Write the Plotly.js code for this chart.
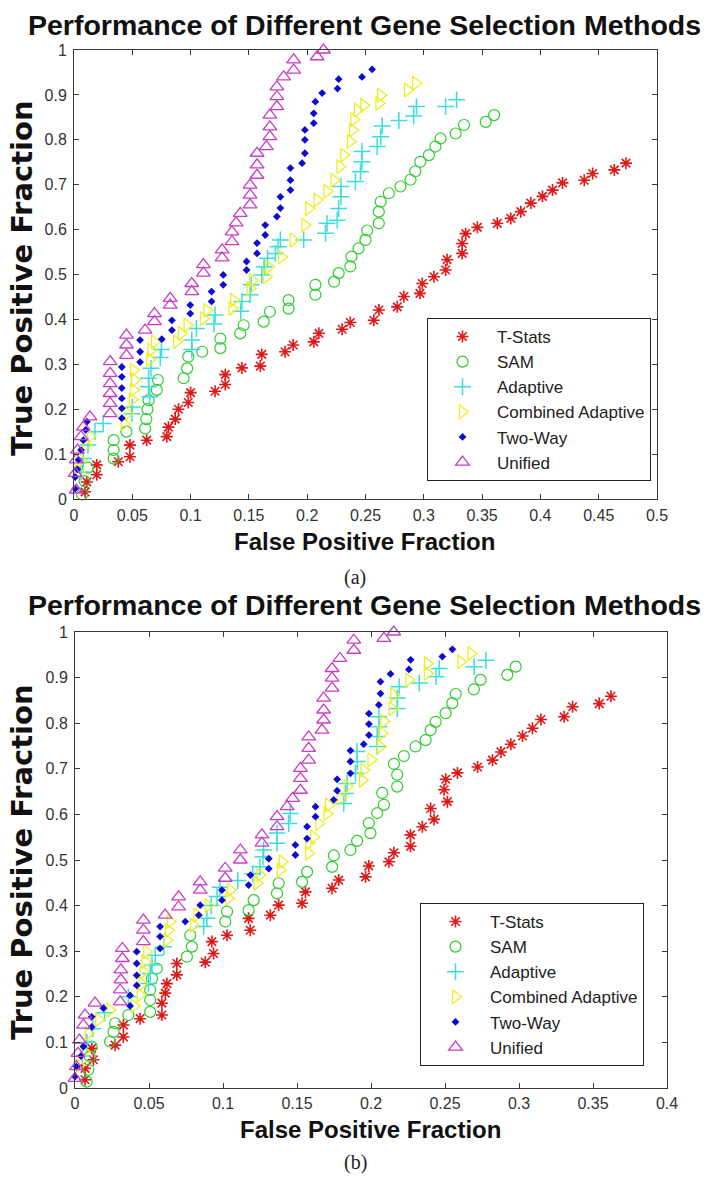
<!DOCTYPE html>
<html>
<head>
<meta charset="utf-8">
<script src="https://cdn.plot.ly/plotly-3.0.1.min.js"></script>
<style>
html,body{margin:0;padding:0;background:#fff;}
#chart{width:713px;height:1178px;}
</style>
</head>
<body>
<div id="chart"></div>
<script>
// ---------- Data, panel (a) ----------
var seriesNames = ["T-Stats", "SAM", "Adaptive", "Combined Adaptive", "Two-Way", "Unified"];
var xTicksA = [0,0.05,0.1,0.15,0.2,0.25,0.3,0.35,0.4,0.45,0.5];
var xTicksB = [0,0.05,0.1,0.15,0.2,0.25,0.3,0.35,0.4];
var yTicks = [0,0.1,0.2,0.3,0.4,0.5,0.6,0.7,0.8,0.9,1];

var tstatsA_x = [0.0095,0.011,0.0195,0.0195,0.038,0.048,0.048,0.0624,0.0796,0.081,0.0868,0.0896,0.098,0.1,0.121,0.1297,0.1297,0.144,0.1598,0.161,0.181,0.188,0.2056,0.21,0.23,0.237,0.2571,0.2615,0.2772,0.2829,0.2967,0.2987,0.3087,0.3187,0.32,0.3329,0.3329,0.3359,0.3459,0.363,0.3746,0.3832,0.3918,0.4018,0.4104,0.419,0.4376,0.4448,0.4634,0.4734];
var tstatsA_y = [0.016,0.038,0.054,0.076,0.083,0.094,0.12,0.131,0.139,0.16,0.178,0.2,0.215,0.237,0.24,0.255,0.277,0.292,0.296,0.322,0.328,0.343,0.35,0.369,0.378,0.393,0.398,0.421,0.428,0.451,0.458,0.48,0.495,0.51,0.533,0.547,0.569,0.591,0.605,0.614,0.625,0.64,0.659,0.674,0.688,0.704,0.71,0.725,0.733,0.748];

var samA_x = [0.007,0.009,0.012,0.034,0.034,0.034,0.045,0.061,0.062,0.063,0.064,0.071,0.072,0.094,0.097,0.098,0.11,0.1255,0.1255,0.1426,0.1455,0.1627,0.168,0.184,0.184,0.207,0.207,0.223,0.227,0.237,0.238,0.244,0.25,0.2514,0.2614,0.2614,0.263,0.27,0.28,0.2886,0.2927,0.297,0.3044,0.31,0.3144,0.3273,0.3345,0.3531,0.3603];
var samA_y = [0.01,0.04,0.07,0.09,0.109,0.131,0.15,0.157,0.178,0.2,0.22,0.243,0.265,0.269,0.291,0.317,0.328,0.336,0.357,0.369,0.387,0.395,0.417,0.424,0.443,0.455,0.477,0.484,0.503,0.518,0.54,0.558,0.577,0.598,0.614,0.64,0.662,0.681,0.696,0.711,0.73,0.751,0.766,0.785,0.803,0.814,0.833,0.84,0.855];

var adaptA_x = [0.006,0.008,0.012,0.018,0.025,0.0496,0.05,0.065,0.064,0.064,0.066,0.074,0.075,0.101,0.101,0.105,0.12,0.121,0.143,0.144,0.151,0.152,0.161,0.163,0.166,0.1727,0.175,0.177,0.197,0.2157,0.217,0.2257,0.227,0.229,0.229,0.2414,0.2457,0.247,0.247,0.26,0.263,0.2643,0.2786,0.2913,0.2937,0.3187,0.3281];
var adaptA_y = [0.06,0.09,0.12,0.15,0.168,0.19,0.205,0.228,0.25,0.269,0.291,0.315,0.333,0.333,0.354,0.38,0.39,0.41,0.418,0.44,0.455,0.477,0.499,0.517,0.536,0.547,0.562,0.577,0.577,0.592,0.614,0.621,0.647,0.673,0.696,0.707,0.729,0.751,0.774,0.785,0.807,0.831,0.843,0.853,0.874,0.874,0.889];

var combA_x = [0.004,0.006,0.01,0.014,0.043,0.046,0.05,0.051,0.052,0.051,0.065,0.066,0.069,0.088,0.092,0.097,0.111,0.114,0.1355,0.137,0.151,0.153,0.165,0.167,0.178,0.188,0.198,0.2013,0.2085,0.217,0.223,0.228,0.2314,0.237,0.239,0.24,0.243,0.2485,0.2615,0.263,0.286,0.293];
var combA_y = [0.06,0.087,0.12,0.14,0.168,0.19,0.221,0.243,0.265,0.287,0.31,0.332,0.35,0.35,0.369,0.387,0.402,0.42,0.424,0.443,0.469,0.487,0.495,0.517,0.539,0.577,0.61,0.647,0.666,0.685,0.71,0.74,0.766,0.796,0.822,0.845,0.866,0.877,0.881,0.899,0.911,0.926];

var twowayA_x = [0.001,0.001,0.003,0.004,0.006,0.008,0.01,0.011,0.041,0.041,0.041,0.041,0.041,0.041,0.0567,0.0567,0.0567,0.0753,0.084,0.084,0.0997,0.0997,0.118,0.118,0.128,0.128,0.148,0.148,0.157,0.157,0.164,0.164,0.174,0.177,0.177,0.1856,0.1856,0.1856,0.1956,0.198,0.198,0.198,0.2056,0.2056,0.207,0.2128,0.226,0.227,0.247,0.2557];
var twowayA_y = [0.023,0.049,0.066,0.087,0.109,0.131,0.154,0.172,0.18,0.202,0.224,0.247,0.272,0.294,0.305,0.328,0.354,0.356,0.376,0.398,0.413,0.432,0.44,0.462,0.477,0.499,0.51,0.529,0.547,0.57,0.588,0.61,0.629,0.648,0.673,0.688,0.71,0.737,0.748,0.77,0.8,0.822,0.837,0.859,0.885,0.904,0.914,0.935,0.94,0.957];

var unifA_x = [0.002,0.001,0.002,0.003,0.006,0.008,0.0137,0.031,0.031,0.031,0.031,0.031,0.031,0.045,0.045,0.045,0.061,0.069,0.069,0.0825,0.0825,0.101,0.101,0.111,0.111,0.127,0.127,0.1355,0.1355,0.139,0.1426,0.151,0.151,0.151,0.157,0.157,0.157,0.165,0.168,0.168,0.168,0.174,0.174,0.174,0.1798,0.1884,0.1884,0.2085,0.214];
var unifA_y = [0.02,0.057,0.087,0.109,0.139,0.16,0.183,0.19,0.213,0.235,0.257,0.28,0.306,0.32,0.343,0.365,0.376,0.395,0.413,0.432,0.447,0.462,0.48,0.503,0.522,0.537,0.555,0.573,0.595,0.615,0.636,0.655,0.677,0.699,0.721,0.744,0.77,0.785,0.807,0.829,0.855,0.874,0.896,0.918,0.94,0.955,0.978,0.985,1.0];

// ---------- Data, panel (b) ----------
var tstatsB_x = [0.0068,0.0068,0.0124,0.0113,0.0271,0.0327,0.0327,0.044,0.0587,0.0587,0.061,0.0621,0.0688,0.0688,0.088,0.0936,0.0925,0.1027,0.1184,0.1173,0.132,0.1376,0.1534,0.1557,0.1737,0.1782,0.1963,0.1985,0.2121,0.2155,0.2267,0.2267,0.2347,0.2426,0.2403,0.2516,0.2494,0.2505,0.2584,0.272,0.2821,0.2878,0.2945,0.3024,0.3091,0.3148,0.3305,0.3362,0.3542,0.3621];
var tstatsB_y = [0.018,0.043,0.062,0.087,0.094,0.112,0.138,0.152,0.16,0.186,0.208,0.229,0.248,0.273,0.276,0.295,0.321,0.335,0.346,0.372,0.379,0.401,0.405,0.43,0.438,0.456,0.463,0.487,0.496,0.516,0.53,0.555,0.573,0.589,0.613,0.628,0.654,0.677,0.691,0.704,0.719,0.737,0.754,0.772,0.789,0.808,0.814,0.836,0.843,0.859];

var samB_x = [0.0079,0.009,0.01,0.0113,0.0237,0.026,0.0271,0.0361,0.0508,0.0508,0.0508,0.052,0.0553,0.0756,0.079,0.0779,0.1015,0.1027,0.1173,0.1207,0.1365,0.1376,0.1534,0.1568,0.1737,0.1749,0.1861,0.1906,0.1996,0.1985,0.2042,0.2087,0.2076,0.2177,0.2177,0.2155,0.2222,0.2301,0.2369,0.2403,0.2437,0.2504,0.2549,0.2572,0.2695,0.274,0.2921,0.2978];
var samB_y = [0.014,0.04,0.069,0.091,0.102,0.123,0.142,0.16,0.167,0.193,0.215,0.24,0.262,0.288,0.31,0.335,0.365,0.387,0.39,0.412,0.427,0.449,0.452,0.474,0.485,0.51,0.522,0.542,0.559,0.581,0.603,0.621,0.647,0.661,0.687,0.711,0.728,0.749,0.763,0.785,0.803,0.822,0.844,0.864,0.874,0.895,0.906,0.924];

var adaptB_x = [0.005,0.008,0.012,0.02,0.036,0.0497,0.0508,0.052,0.0542,0.06,0.0869,0.0891,0.092,0.096,0.098,0.11,0.12,0.125,0.127,0.1275,0.1365,0.1365,0.1444,0.1455,0.1816,0.1828,0.1839,0.1895,0.1907,0.1906,0.2042,0.2042,0.2053,0.2053,0.2178,0.2178,0.219,0.2326,0.244,0.2461,0.2697,0.2776];
var adaptB_y = [0.07,0.1,0.13,0.165,0.2,0.229,0.251,0.27,0.291,0.31,0.354,0.372,0.4,0.42,0.44,0.455,0.47,0.485,0.507,0.522,0.537,0.559,0.58,0.602,0.624,0.646,0.668,0.69,0.716,0.738,0.749,0.771,0.792,0.814,0.832,0.855,0.88,0.888,0.902,0.92,0.924,0.938];

var combB_x = [0.003,0.006,0.0091,0.016,0.0237,0.04,0.044,0.0451,0.0462,0.0474,0.0485,0.0621,0.0632,0.0643,0.08,0.0824,0.09,0.1038,0.1049,0.123,0.125,0.1387,0.14,0.1579,0.1579,0.1613,0.1647,0.1703,0.1714,0.1794,0.184,0.1941,0.1952,0.2,0.2064,0.2075,0.2087,0.2143,0.2154,0.2256,0.2381,0.2381,0.2607,0.2675];
var combB_y = [0.05,0.08,0.12,0.15,0.171,0.18,0.204,0.229,0.255,0.277,0.299,0.324,0.346,0.365,0.357,0.379,0.4,0.416,0.434,0.449,0.467,0.478,0.496,0.515,0.537,0.551,0.58,0.602,0.62,0.635,0.661,0.675,0.697,0.72,0.749,0.778,0.804,0.832,0.862,0.895,0.909,0.931,0.935,0.953];

var twowayB_x = [0.0,0.001,0.004,0.0057,0.0113,0.0113,0.0192,0.0372,0.0372,0.0417,0.0417,0.0417,0.0417,0.0575,0.0575,0.0575,0.0745,0.0836,0.0846,0.0993,0.0993,0.1173,0.1185,0.1309,0.1309,0.1489,0.1489,0.1568,0.1568,0.1625,0.1625,0.1748,0.1771,0.1771,0.1861,0.1861,0.1861,0.1951,0.1986,0.1986,0.1986,0.2053,0.2064,0.2064,0.2132,0.2256,0.2268,0.2482,0.255];
var twowayB_y = [0.025,0.047,0.07,0.091,0.134,0.156,0.175,0.18,0.203,0.225,0.247,0.273,0.299,0.306,0.332,0.354,0.365,0.379,0.401,0.412,0.434,0.445,0.467,0.481,0.503,0.511,0.533,0.547,0.573,0.595,0.617,0.632,0.652,0.677,0.69,0.716,0.74,0.754,0.774,0.798,0.821,0.84,0.865,0.891,0.908,0.918,0.939,0.946,0.962];

var unifB_x = [0.0,0.001,0.002,0.003,0.0057,0.0068,0.0135,0.0305,0.0305,0.031,0.031,0.032,0.032,0.0462,0.0462,0.0462,0.0609,0.07,0.07,0.0846,0.0846,0.1015,0.1015,0.1117,0.1117,0.1263,0.1263,0.1365,0.1365,0.1433,0.147,0.1523,0.1523,0.1523,0.1579,0.1579,0.1579,0.1669,0.168,0.168,0.168,0.1737,0.1737,0.1737,0.179,0.1884,0.1884,0.2087,0.2154];
var unifB_y = [0.021,0.047,0.076,0.105,0.138,0.16,0.186,0.189,0.215,0.237,0.259,0.284,0.306,0.321,0.346,0.368,0.379,0.397,0.419,0.434,0.452,0.46,0.482,0.5,0.522,0.537,0.555,0.573,0.595,0.617,0.635,0.653,0.679,0.701,0.719,0.745,0.77,0.785,0.807,0.829,0.855,0.877,0.899,0.92,0.942,0.96,0.982,0.986,1.0];

// ---------- Styles ----------
var markerStyles = [
  {symbol:'asterisk-open', size:10, color:'#e01818', line:{width:1.6, color:'#e01818'}},
  {symbol:'circle-open', size:11, color:'#2fcc2f', line:{width:1.2, color:'#2fcc2f'}},
  {symbol:'cross-thin-open', size:12, color:'#3adede', line:{width:1.5, color:'#3adede'}},
  {symbol:'triangle-right-open', size:12, color:'#eeee22', line:{width:1.3, color:'#eeee22'}},
  {symbol:'diamond', size:6, color:'#0c0cd0', line:{width:0}},
  {symbol:'triangle-up-open', size:12, color:'#c83cc8', line:{width:1.3, color:'#c83cc8'}}
];

var panelA = [[tstatsA_x,tstatsA_y],[samA_x,samA_y],[adaptA_x,adaptA_y],[combA_x,combA_y],[twowayA_x,twowayA_y],[unifA_x,unifA_y]];
var panelB = [[tstatsB_x,tstatsB_y],[samB_x,samB_y],[adaptB_x,adaptB_y],[combB_x,combB_y],[twowayB_x,twowayB_y],[unifB_x,unifB_y]];

var traces = [];
panelA.forEach(function(d,i){
  traces.push({type:'scatter', mode:'markers', name:seriesNames[i], x:d[0], y:d[1],
    xaxis:'x', yaxis:'y', legend:'legend', marker:markerStyles[i], cliponaxis:false});
});
panelB.forEach(function(d,i){
  traces.push({type:'scatter', mode:'markers', name:seriesNames[i], x:d[0], y:d[1],
    xaxis:'x2', yaxis:'y2', legend:'legend2', marker:markerStyles[i], cliponaxis:false});
});

var W = 713, H = 1178;
function px(x){return x/W;}
function py(y){return 1 - y/H;}

var axisCommon = {
  showline:true, linecolor:'#3a3a3a', linewidth:1, mirror:'allticks',
  ticks:'inside', ticklen:5, tickcolor:'#3a3a3a', tickwidth:1,
  showgrid:false, zeroline:false, fixedrange:true,
  tickfont:{family:'Liberation Sans, Arial, sans-serif', size:16, color:'#333'}
};
function ax(extra){ return Object.assign({}, axisCommon, extra); }

var titleFont = {family:'Liberation Sans, Arial, sans-serif', size:28.5, color:'#111'};
var labelFont = {family:'Liberation Sans, Arial, sans-serif', size:24, color:'#111'};
var yLabelFont = {family:'DejaVu Sans, Liberation Sans, sans-serif', size:29, color:'#111'};
var captionFont = {family:'Liberation Serif, Times New Roman, serif', size:20, color:'#222'};
var titleText = 'Performance of Different Gene Selection Methods';

var legendCommon = {
  xanchor:'left', yanchor:'top', bgcolor:'#ffffff', bordercolor:'#222', borderwidth:1,
  font:{family:'Liberation Sans, Arial, sans-serif', size:17, color:'#222'},
  itemwidth:59, tracegroupgap:0, traceorder:'normal'
};

var layout = {
  width:W, height:H, margin:{l:0,r:0,t:0,b:0},
  paper_bgcolor:'#fff', plot_bgcolor:'#fff', showlegend:true,
  xaxis: ax({domain:[px(74),px(657)], anchor:'y', range:[0,0.5], tickvals:xTicksA, ticktext:xTicksA.map(String), ticklabelstandoff:2}),
  yaxis: ax({domain:[py(499),py(50)], anchor:'x', range:[0,1], tickvals:yTicks, ticktext:yTicks.map(String), ticklabelstandoff:3}),
  xaxis2: ax({domain:[px(75),px(667)], anchor:'y2', range:[0,0.4], tickvals:xTicksB, ticktext:xTicksB.map(String), ticklabelstandoff:1}),
  yaxis2: ax({domain:[py(1088),py(632)], anchor:'x2', range:[0,1], tickvals:yTicks, ticktext:yTicks.map(String), ticklabelstandoff:3}),
  legend: Object.assign({x:px(427), y:py(318)}, legendCommon),
  legend2: Object.assign({x:px(420), y:py(903)}, legendCommon),
  annotations:[
    {text:'<b>'+titleText+'</b>', xref:'paper', yref:'paper', x:px(364), y:py(25), xanchor:'center', yanchor:'middle', showarrow:false, font:titleFont},
    {text:'<b>'+titleText+'</b>', xref:'paper', yref:'paper', x:px(364), y:py(605), xanchor:'center', yanchor:'middle', showarrow:false, font:titleFont},
    {text:'<b>False Positive Fraction</b>', xref:'paper', yref:'paper', x:px(364), y:py(541), xanchor:'center', yanchor:'middle', showarrow:false, font:labelFont},
    {text:'<b>False Positive Fraction</b>', xref:'paper', yref:'paper', x:px(370), y:py(1129), xanchor:'center', yanchor:'middle', showarrow:false, font:labelFont},
    {text:'<b>True Positive Fraction</b>', xref:'paper', yref:'paper', x:px(22), y:py(278), xanchor:'center', yanchor:'middle', textangle:-90, showarrow:false, font:yLabelFont},
    {text:'<b>True Positive Fraction</b>', xref:'paper', yref:'paper', x:px(22), y:py(862), xanchor:'center', yanchor:'middle', textangle:-90, showarrow:false, font:yLabelFont},
    {text:'(a)', xref:'paper', yref:'paper', x:px(355), y:py(577), xanchor:'center', yanchor:'middle', showarrow:false, font:captionFont},
    {text:'(b)', xref:'paper', yref:'paper', x:px(355), y:py(1162), xanchor:'center', yanchor:'middle', showarrow:false, font:captionFont}
  ]
};

Plotly.newPlot('chart', traces, layout, {staticPlot:true, displayModeBar:false});
</script>
</body>
</html>
